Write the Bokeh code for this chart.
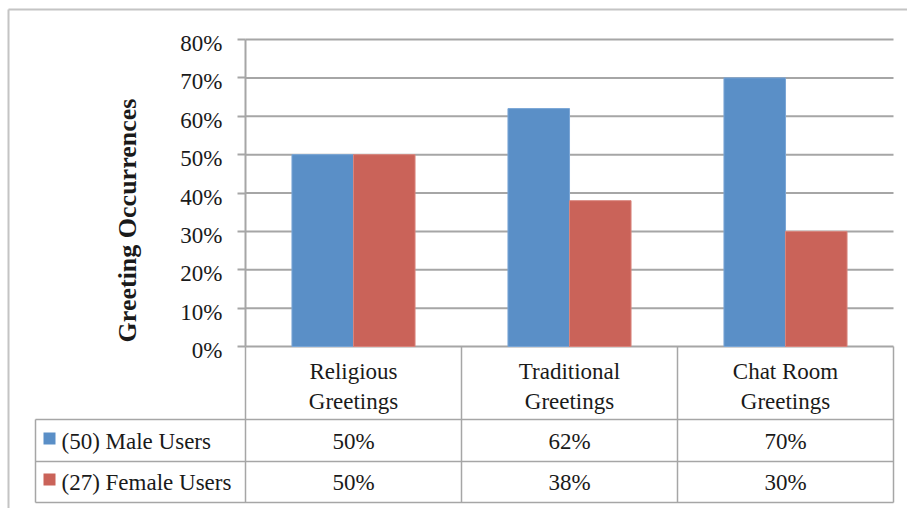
import numpy as np
from bokeh.plotting import figure
from bokeh.models import ColumnDataSource, LinearAxis, FixedTicker, PrintfTickFormatter, Range1d
from bokeh.transform import dodge
from bokeh.core.properties import value
from bokeh.embed import file_html
from bokeh.resources import INLINE

# ---- data ----
categories = ["Religious Greetings", "Traditional Greetings", "Chat Room Greetings"]
category_labels = ["Religious\nGreetings", "Traditional\nGreetings", "Chat Room\nGreetings"]
series_names = ["(50) Male Users", "(27) Female Users"]
male_pct = [50, 62, 70]
female_pct = [50, 38, 30]
y_ticks = [0, 10, 20, 30, 40, 50, 60, 70, 80]
y_title = "Greeting Occurrences"

# ---- styling ----
BLUE = "#5A8FC7"
RED = "#CA6359"
GRID = "#a6a6a6"
BORDER = "#c4c4c4"
TEXT = "#1a1a1a"
FONT = "Liberation Serif"
FS = "23px"

W, H = 907, 508
# plot area in canvas pixels; the whole canvas is the frame
PX_LEFT, PX_RIGHT = 245, 893
PX_TOP, PX_ZERO = 39, 346
Y_MAX = y_ticks[-1]
n = len(categories)
ux = (PX_RIGHT - PX_LEFT) / n
uy = (PX_ZERO - PX_TOP) / Y_MAX


def dx(px):
    return (px - PX_LEFT) / ux


def dy(py):
    return (PX_ZERO - py) / uy


p = figure(width=W, height=H, x_range=Range1d(dx(0), dx(W)), y_range=Range1d(dy(H), dy(0)),
           min_border=0, toolbar_location=None, output_backend="svg",
           x_axis_location=None, y_axis_location=None)
p.outline_line_color = None
p.background_fill_color = "white"
p.border_fill_color = "white"
p.xgrid.grid_line_color = None
p.ygrid.grid_line_color = None

# outer chart border
p.segment(x0=[dx(8), dx(8)], y0=[dy(9), dy(9)], x1=[dx(8), dx(W + 5)], y1=[dy(H + 5), dy(9)],
          line_color=BORDER, line_width=2)

# horizontal gridlines
p.segment(x0=0, x1=n, y0=y_ticks, y1=y_ticks, line_color=GRID, line_width=2)

# bars
idx = np.arange(n)
src = ColumnDataSource(dict(x=idx + 0.5, male=male_pct, female=female_pct))
BAR_W = 0.285
OFF = 0.1424
p.vbar(x=dodge("x", -OFF), top="male", bottom=0, width=BAR_W, source=src,
       fill_color=BLUE, line_color="#7aa6d6", line_width=1)
p.vbar(x=dodge("x", OFF), top="female", bottom=0, width=BAR_W, source=src,
       fill_color=RED, line_color="#d9857d", line_width=1)

# y axis drawn at the left edge of the plot area (labels drawn separately below)
yaxis = LinearAxis(fixed_location=0, bounds=(0, Y_MAX), ticker=FixedTicker(ticks=y_ticks),
                   formatter=PrintfTickFormatter(format="%d%%"))
yaxis.axis_line_color = GRID
yaxis.axis_line_width = 2
yaxis.major_tick_line_color = GRID
yaxis.major_tick_line_width = 2
yaxis.major_tick_out = 8
yaxis.major_tick_in = 0
yaxis.minor_tick_line_color = None
yaxis.major_label_text_font_size = "0px"
yaxis.major_label_text_color = None
p.add_layout(yaxis, "left")

# tick labels, sitting slightly below their ticks
p.text(x=[dx(222)] * len(y_ticks), y=y_ticks, text=[f"{t}%" for t in y_ticks],
       y_offset=4, text_align="right", text_baseline="middle", text_color=TEXT,
       text_font=value(FONT), text_font_size=FS)

# y axis title
p.text(x=[dx(127)], y=[dy(220)], text=[y_title], angle=np.pi / 2,
       text_align="center", text_baseline="middle", text_color=TEXT,
       text_font=value(FONT), text_font_style="bold", text_font_size="26px")

# data table lines
TBL_LEFT = dx(35)
row_y = [dy(419), dy(461), dy(502)]
p.segment(x0=list(range(n + 1)), x1=list(range(n + 1)), y0=0, y1=row_y[-1],
          line_color=GRID, line_width=1.5)
p.segment(x0=[TBL_LEFT], x1=[TBL_LEFT], y0=[row_y[0]], y1=[row_y[-1]],
          line_color=GRID, line_width=1.5)
p.segment(x0=TBL_LEFT, x1=n, y0=row_y, y1=row_y, line_color=GRID, line_width=1.5)

# category header
p.text(x=idx + 0.5, y=[dy(386)] * n, text=category_labels, text_align="center",
       text_baseline="middle", text_line_height=1.2, text_color=TEXT,
       text_font=value(FONT), text_font_size=FS)

# series rows
for vals, name, color, cy in [(male_pct, series_names[0], BLUE, 441),
                              (female_pct, series_names[1], RED, 482)]:
    p.scatter(x=[dx(49)], y=[dy(cy - 3)], marker="square", size=12,
              fill_color=color, line_color=None)
    p.text(x=[dx(61)], y=[dy(cy)], text=[name], text_align="left", text_baseline="middle",
           text_color=TEXT, text_font=value(FONT), text_font_size=FS)
    p.text(x=idx + 0.5, y=[dy(cy)] * n, text=[f"{v}%" for v in vals], text_align="center",
           text_baseline="middle", text_color=TEXT, text_font=value(FONT), text_font_size=FS)

open("out.html", "w").write(file_html(p, INLINE))
